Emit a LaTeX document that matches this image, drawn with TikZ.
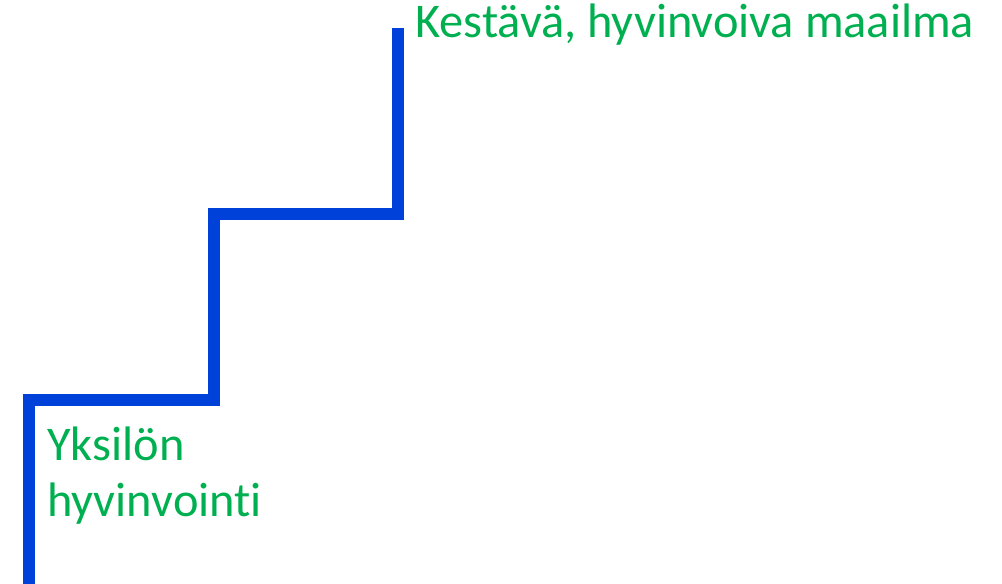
\documentclass[tikz,border=0pt]{standalone}
\usepackage{fontspec}
\setmainfont{Carlito}[Ligatures={NoCommon}]
\usepackage{xcolor}
\definecolor{escalier}{RGB}{0,65,217}
\definecolor{vertlabel}{RGB}{0,176,80}

\begin{document}
\begin{tikzpicture}[x=0.75pt,y=0.75pt,
	etiquette/.style={text=vertlabel,inner sep=0pt,align=left,font=\fontsize{36.3}{42}\selectfont}]
						\useasboundingbox (0,0) rectangle (1002,584);
						% Marches
						\coordinate (bas) at (29,0);
						\coordinate (haut) at (398,556);
						\draw [escalier,line width=9pt] (bas) |- (214,184) |- (398,370) -- (haut);
						\node [etiquette,anchor=base west] (monde) at (415,546.5) {Kestävä, hyvinvoiva maailma};
						\node [etiquette,anchor=base west] (yksilo) at (47,67) {Yksilön\\hyvinvointi};
						\end{tikzpicture}
\end{document}
